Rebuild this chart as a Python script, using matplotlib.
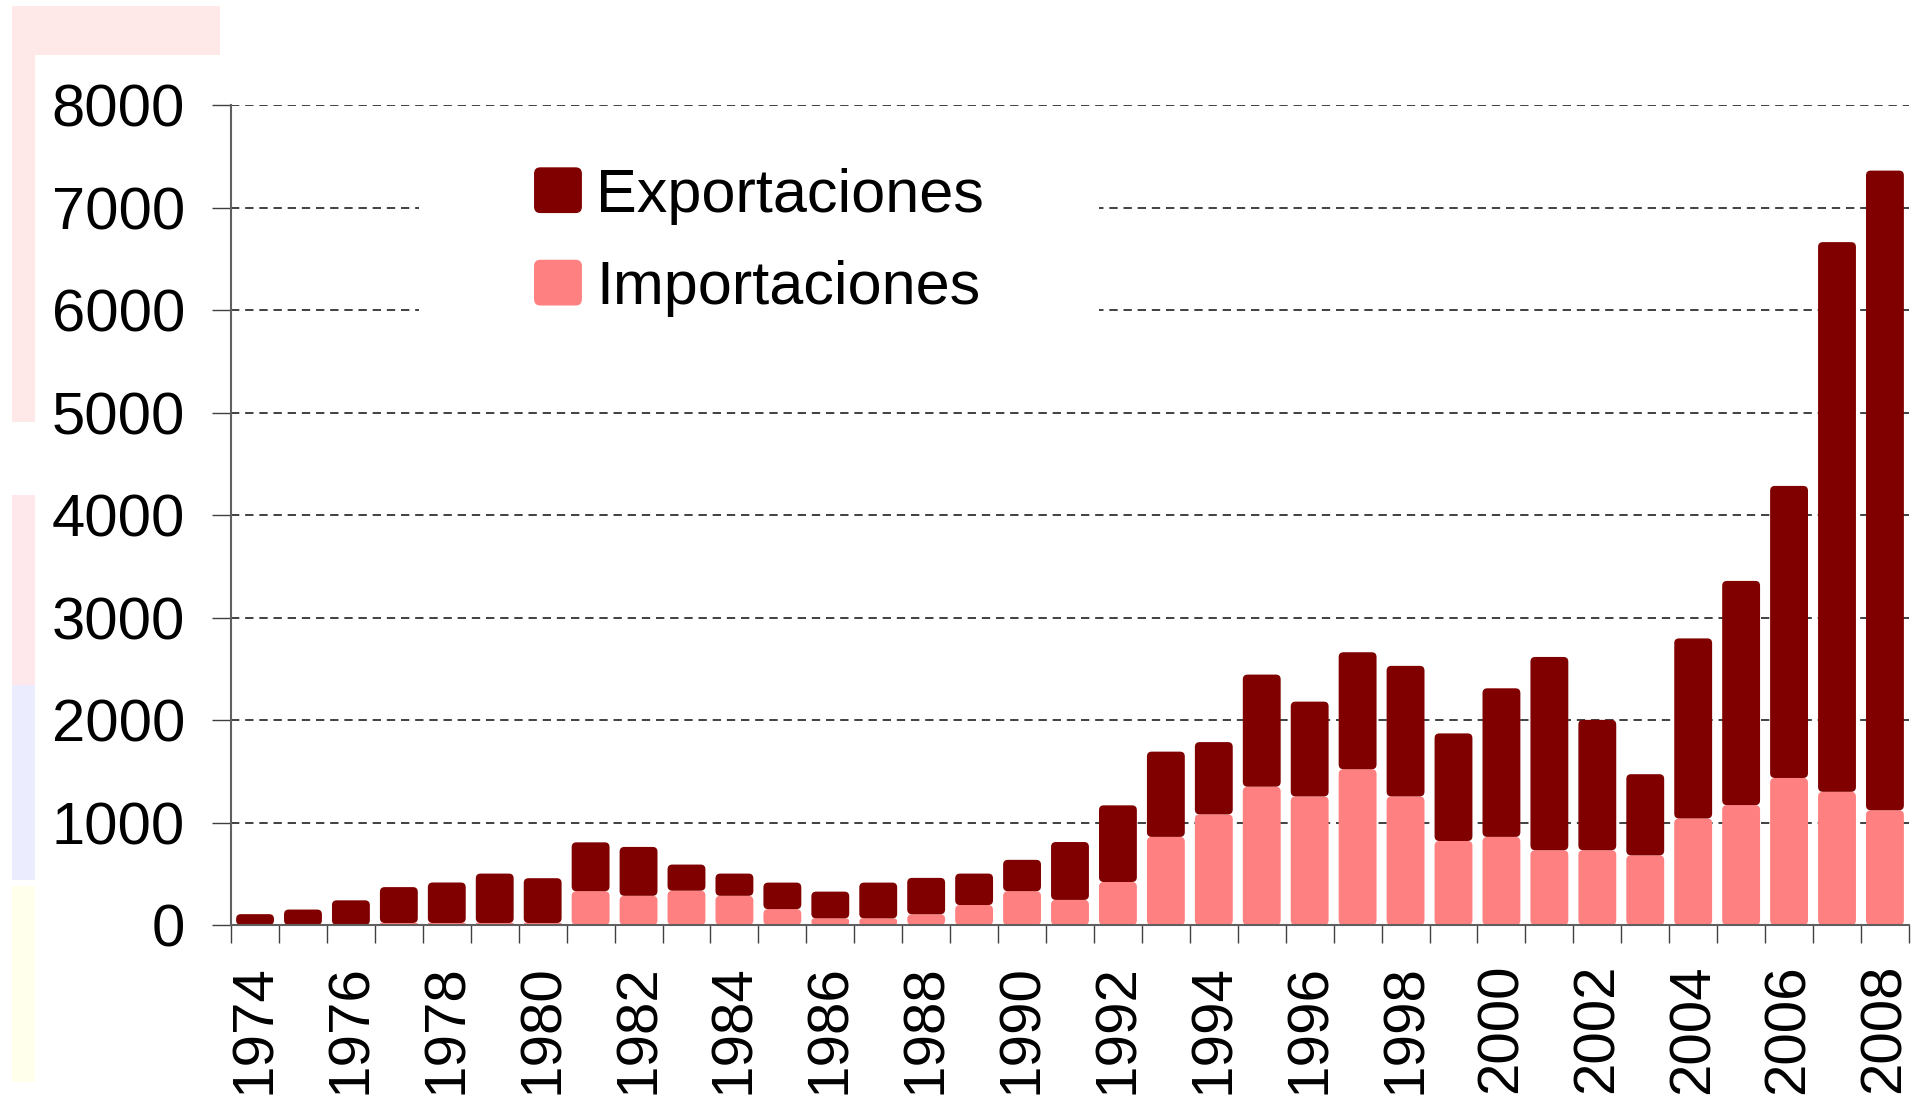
import matplotlib
matplotlib.use("Agg")
import matplotlib.pyplot as plt
from matplotlib.patches import Rectangle, Patch, FancyBboxPatch
from matplotlib.legend_handler import HandlerPatch

plt.rcParams["font.family"] = ["Liberation Sans", "DejaVu Sans"]

# Data
years = list(range(1974, 2009))
importaciones = [0, 0, 0, 20, 20, 20, 20, 330, 285, 335, 285, 155, 65, 65, 105,
                 195, 330, 245, 420, 860, 1080, 1350, 1255, 1520, 1255, 820,
                 860, 730, 730, 680, 1040, 1170, 1435, 1300, 1120]
exportaciones = [106, 151, 241, 350, 395, 482, 437, 477, 477, 255, 217, 259,
                 261, 349, 355, 307, 306, 565, 748, 832, 705, 1094, 925, 1142,
                 1274, 1050, 1450, 1886, 1272, 792, 1757, 2188, 2850, 5364, 6242]
yticks = list(range(0, 9000, 1000))

dark = "#800000"
pink = "#FF8080"

fig = plt.figure(figsize=(19.16, 10.96), dpi=100)
ax = fig.add_axes([0.1206, 0.156, 0.8757, 0.748])

# faint slide decoration on the left edge
deco = [
    (12, 6, 23, 416, "#FFE8E8"),
    (12, 6, 208, 49, "#FFE8E8"),
    (12, 495, 23, 190, "#FFE8EC"),
    (12, 685, 23, 195, "#ECECFF"),
    (12, 886, 23, 196, "#FFFFEB"),
]
for x0, y0, w, h, c in deco:
    fig.patches.append(Rectangle((x0 / 1916, 1 - (y0 + h) / 1096), w / 1916, h / 1096,
                                 transform=fig.transFigure, color=c, lw=0, zorder=0))

x = list(range(len(years)))
ax.set_xlim(-0.5, len(years) - 0.5)
ax.set_ylim(0, 8000)

bars_imp = ax.bar(x, importaciones, width=0.79, color=pink, zorder=3)
bars_exp = ax.bar(x, exportaciones, width=0.79, bottom=importaciones, color=dark, zorder=3)

# swap the plain rectangles for ones with slightly rounded corners
for container in (bars_imp, bars_exp):
    for r in container.patches:
        if r.get_height() <= 0:
            r.set_visible(False)
            continue
        rs = min(0.1, r.get_height() / 470 / 2)
        fb = FancyBboxPatch((r.get_x(), r.get_y()), r.get_width(), r.get_height(),
                            boxstyle=f"round,pad=0,rounding_size={rs}",
                            mutation_aspect=470, facecolor=r.get_facecolor(),
                            edgecolor="none", zorder=3)
        r.set_visible(False)
        ax.add_patch(fb)

ax.set_yticks(yticks)
ax.set_yticklabels([str(v) for v in yticks])
ax.tick_params(axis="y", labelsize=43, length=14, width=1, pad=19, color="#404040")

ax.set_xticks(x[::2])
ax.set_xticklabels([str(y) for y in years[::2]], rotation=90)
ax.set_xticks([i - 0.5 for i in range(len(years) + 1)], minor=True)
ax.tick_params(axis="x", which="major", labelsize=42, length=0, pad=28)
ax.tick_params(axis="x", which="minor", length=13, width=1, color="#404040")

ax.grid(axis="y", linestyle=(0, (5, 3.5)), color="#202020", linewidth=1.2, zorder=1)
ax.set_axisbelow(True)

for s in ["top", "right"]:
    ax.spines[s].set_visible(False)
for s in ["left", "bottom"]:
    ax.spines[s].set_color("#606060")
    ax.spines[s].set_linewidth(1.5)
    ax.spines[s].set_zorder(4)

# white area behind the legend
ax.add_patch(Rectangle((0.112, 0.726), 0.405, 0.23, transform=ax.transAxes,
                       color="white", lw=0, zorder=2))


def rounded_key(legend, orig_handle, xdescent, ydescent, width, height, fontsize):
    return FancyBboxPatch((-xdescent, -ydescent), width, height,
                          boxstyle="round,pad=0,rounding_size=4")


handles = [Patch(color=dark), Patch(color=pink)]
ax.legend(handles, ["Exportaciones", "Importaciones"], loc="upper left",
          bbox_to_anchor=(0.181, 0.924), frameon=False, fontsize=44,
          handlelength=0.76, handleheight=0.74, handletextpad=0.25,
          labelspacing=0.58, borderpad=0, borderaxespad=0,
          handler_map={Patch: HandlerPatch(patch_func=rounded_key)})

fig.savefig("out.png", dpi=100)
